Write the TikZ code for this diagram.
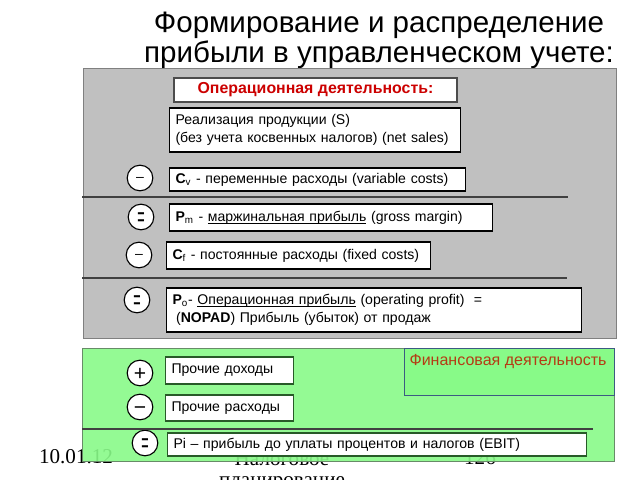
\documentclass[tikz,border=0pt]{standalone}
\usepackage{fontspec}
\setmainfont{Liberation Sans}
\newfontfamily\footfont{Liberation Serif}
\usetikzlibrary{positioning}

\definecolor{panelgray}{RGB}{192,192,192}
\definecolor{panelgreen}{RGB}{136,250,136}
\definecolor{headred}{RGB}{204,0,0}
\definecolor{finred}{RGB}{180,60,20}
\definecolor{finedge}{RGB}{60,90,130}
\definecolor{greenedge}{RGB}{40,90,40}

\newcommand{\subsign}{\raisebox{-2.8pt}{–}}
\newcommand{\eqsign}{\raisebox{-6.9pt}{\scalebox{0.9}[2.0]{=}}}
\newcommand{\uln}[1]{\underline{\smash{#1}}}

\tikzstyle{entry} = [rectangle, draw=black, fill=white, line width=0.8pt, anchor=west, align=left, inner xsep=0.15cm, inner ysep=0pt, font=\fontsize{10}{12.8}\selectfont]
\tikzstyle{greenentry} = [entry, draw=greenedge]
\tikzstyle{heading} = [rectangle, draw=black!70, fill=white, line width=0.8pt, minimum width=7.075cm, minimum height=0.6cm, text=headred, font=\bfseries\fontsize{11.3}{12}\selectfont]
\tikzstyle{opsign} = [circle, draw=black, fill=white, line width=0.8pt, minimum size=0.64cm, inner sep=0pt, text height=0pt, text depth=0pt, font=\fontsize{10}{10}\selectfont]
\tikzstyle{bigsign} = [font=\fontsize{15}{15}\selectfont]
\tikzstyle{sepline} = [line width=0.9pt, draw=black!75]
\tikzstyle{footer} = [font=\footfont\fontsize{15}{15}\selectfont, inner sep=0pt]

\begin{document}
\begin{tikzpicture}[x=0.025cm, y=-0.025cm]
\useasboundingbox (0,0) rectangle (640,480);

\node (title) at (379,40) [align=center, font=\fontsize{21}{21.5}\selectfont] {Формирование и распределение\\прибыли в управленческом учете:};

% footer of the slide
\node (date) at (76,457) [footer] {10.01.12};
\node (tax1) at (282,459) [footer] {Налоговое};
\node (tax2) [below=7pt of tax1, footer] {планирование};
\node (page) at (480,458) [footer] {126};

% operating part
\draw[draw=black!50, fill=panelgray] (83,68) rectangle (616,338);
\node (head) at (315.5,90) [heading] {Операционная деятельность:};
\node (sales) at (169,130) [entry, text width=6.975cm, minimum height=1.1cm] {Реализация продукции (S)\\(без учета косвенных налогов) (net sales)};
\node (cv) at (169,179.5) [entry, text width=7.1cm, minimum height=0.575cm] {{\bfseries C}\textsubscript{v} - переменные расходы (variable costs)};
\node (pm) at (169,217.5) [entry, text width=7.775cm, minimum height=0.675cm] {{\bfseries P}\textsubscript{m} - \uln{маржинальная прибыль} (gross margin)};
\node (cf) at (166,255.5) [entry, text width=6.3cm, minimum height=0.675cm] {{\bfseries C}\textsubscript{f} - постоянные расходы (fixed costs)};
\node (po) at (166,310) [entry, text width=10.075cm, minimum height=1.1cm] {{\bfseries P}\textsubscript{o}- \uln{Операционная прибыль} (operating profit)\ \ =\\\hspace{0.25em}(\textbf{NOPAD}) Прибыль (убыток) от продаж};

\node (s1) at (140,178) [opsign] {\subsign};
\node (s2) at (141,217) [opsign] {\eqsign};
\node (s3) at (139,255) [opsign] {\subsign};
\node (s4) at (137,300) [opsign] {\eqsign};

\draw[sepline] (82,197) -- (568,197);
\draw[sepline] (82,278) -- (567,278);

% financial part
\draw[draw=greenedge!70, fill=panelgreen, fill opacity=0.9] (82,348) rectangle (614,461);
\node (finbox) at (509,371.5) [rectangle, draw=finedge, fill=panelgreen, minimum width=5.25cm, minimum height=1.175cm] {};
\node (finlabel) [below right=0.17cm and 0.14cm of finbox.north west, inner sep=0pt, text=finred, font=\fontsize{11.4}{12}\selectfont] {Финансовая деятельность};

\node (inc) at (165,370.5) [greenentry, text width=2.9cm, minimum height=0.675cm] {Прочие доходы};
\node (exp) at (165,408) [greenentry, text width=2.9cm, minimum height=0.65cm] {Прочие расходы};
\node (pi) at (167,444.5) [greenentry, text width=10.175cm, minimum height=0.575cm] {Pi – прибыль до уплаты процентов и налогов (EBIT)};

\node (g1) at (140,373) [opsign, bigsign] {\raisebox{-5.3pt}{+}};
\node (g2) at (140,407) [opsign, bigsign] {\raisebox{-5pt}{−}};
\node (g3) at (145,443) [opsign] {\eqsign};

\draw[sepline] (82,429) -- (593,429);
\end{tikzpicture}
\end{document}
